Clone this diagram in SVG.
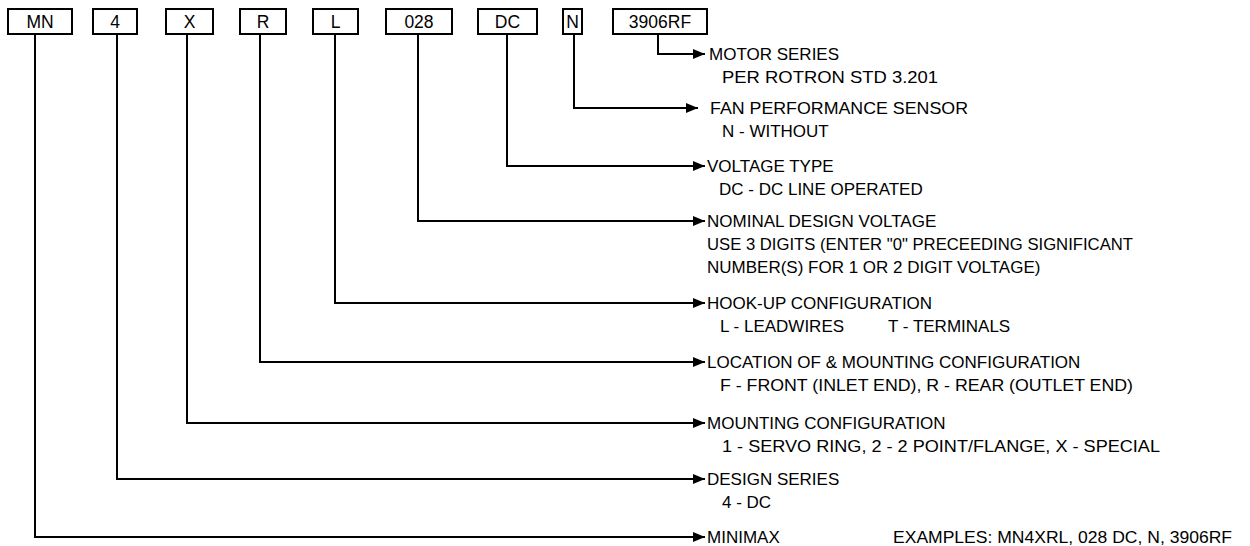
<svg xmlns="http://www.w3.org/2000/svg" width="1250" height="546" viewBox="0 0 1250 546">
<style>
.box rect{fill:#fff;stroke:#000;stroke-width:2}
text{font-family:"Liberation Sans",Arial,sans-serif;font-size:17px;fill:#000}
.bt{text-anchor:middle;font-size:17.5px}
.conn path{fill:none;stroke:#000;stroke-width:2}
</style>
<defs>
<marker id="ah" viewBox="0 0 12 10" refX="12" refY="5" markerWidth="12" markerHeight="10" markerUnits="userSpaceOnUse" orient="auto">
<path d="M0,0 L12,5 L0,10 Z" fill="#000"/>
</marker>
</defs>
<rect width="1250" height="546" fill="#fff"/>
<g class="conn">
<path d="M35,34 V537 H705" marker-end="url(#ah)"/>
<path d="M117,34 V479 H705" marker-end="url(#ah)"/>
<path d="M187,34 V423 H705" marker-end="url(#ah)"/>
<path d="M260,34 V362 H705" marker-end="url(#ah)"/>
<path d="M335,34 V303 H705" marker-end="url(#ah)"/>
<path d="M418,34 V221 H705" marker-end="url(#ah)"/>
<path d="M507,34 V166 H705" marker-end="url(#ah)"/>
<path d="M574,34 V108 H698" marker-end="url(#ah)"/>
<path d="M658,34 V54 H705" marker-end="url(#ah)"/>
</g>
<g id="b-mn" class="box"><rect x="8" y="9" width="64" height="25"/><text class="bt" x="40" y="28">MN</text></g>
<g id="b-4" class="box"><rect x="93" y="9" width="44" height="25"/><text class="bt" x="115" y="28">4</text></g>
<g id="b-x" class="box"><rect x="166" y="9" width="47" height="25"/><text class="bt" x="189.5" y="28">X</text></g>
<g id="b-r" class="box"><rect x="240" y="9" width="46" height="25"/><text class="bt" x="263" y="28">R</text></g>
<g id="b-l" class="box"><rect x="313" y="9" width="45" height="25"/><text class="bt" x="335.5" y="28">L</text></g>
<g id="b-028" class="box"><rect x="386" y="9" width="66" height="25"/><text class="bt" x="419" y="28">028</text></g>
<g id="b-dc" class="box"><rect x="478" y="9" width="59" height="25"/><text class="bt" x="507.5" y="28">DC</text></g>
<g id="b-n" class="box"><rect x="563" y="9" width="19" height="25"/><text class="bt" x="572.5" y="28">N</text></g>
<g id="b-rf" class="box"><rect x="613" y="9" width="94" height="25"/><text class="bt" x="660" y="28">3906RF</text></g>
<g id="labels">
<text x="709" y="60">MOTOR SERIES</text>
<text x="722" y="83" textLength="216" lengthAdjust="spacingAndGlyphs">PER ROTRON STD 3.201</text>
<text x="710" y="114" textLength="258" lengthAdjust="spacingAndGlyphs">FAN PERFORMANCE SENSOR</text>
<text x="722" y="137">N - WITHOUT</text>
<text x="707" y="172">VOLTAGE TYPE</text>
<text x="719" y="195">DC - DC LINE OPERATED</text>
<text x="707" y="227">NOMINAL DESIGN VOLTAGE</text>
<text x="707" y="250" textLength="426" lengthAdjust="spacingAndGlyphs">USE 3 DIGITS (ENTER "0" PRECEEDING SIGNIFICANT</text>
<text x="707" y="273">NUMBER(S) FOR 1 OR 2 DIGIT VOLTAGE)</text>
<text x="707" y="309">HOOK-UP CONFIGURATION</text>
<text x="720" y="332">L - LEADWIRES</text>
<text x="888" y="332">T - TERMINALS</text>
<text x="707" y="368">LOCATION OF &amp; MOUNTING CONFIGURATION</text>
<text x="720" y="391" textLength="413" lengthAdjust="spacingAndGlyphs">F - FRONT (INLET END), R - REAR (OUTLET END)</text>
<text x="707" y="429">MOUNTING CONFIGURATION</text>
<text x="722" y="452" textLength="438" lengthAdjust="spacingAndGlyphs">1 - SERVO RING, 2 - 2 POINT/FLANGE, X - SPECIAL</text>
<text x="707" y="485">DESIGN SERIES</text>
<text x="722" y="508">4 - DC</text>
<text x="707" y="543">MINIMAX</text>
<text x="893" y="543" textLength="339" lengthAdjust="spacingAndGlyphs">EXAMPLES: MN4XRL, 028 DC, N, 3906RF</text>
</g>
</svg>
